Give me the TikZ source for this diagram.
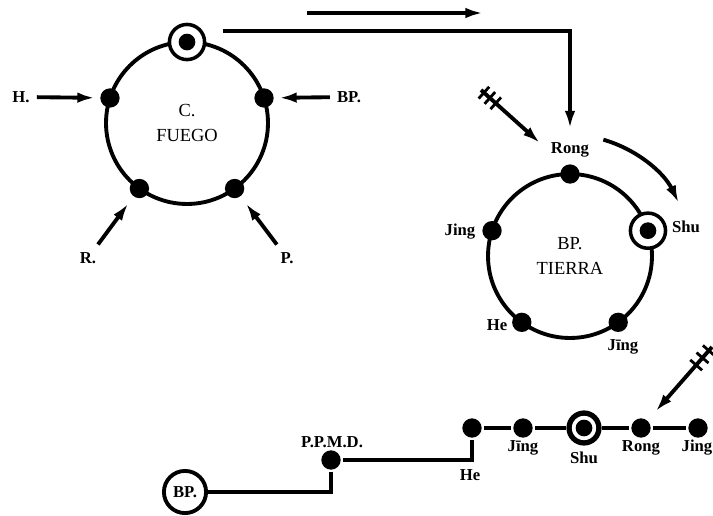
\documentclass[tikz,border=0pt]{standalone}
\usepackage{fontspec}
\setmainfont{Liberation Serif}
\usetikzlibrary{arrows.meta}

\tikzset{
  ball/.style={circle, fill=black, inner sep=0pt, minimum size=11pt},
  core/.style={circle, fill=black, inner sep=0pt, minimum size=9.5pt},
  ring/.style={circle, draw, fill=white, line width=2pt, inner sep=0pt, minimum size=20pt},
  lab/.style={font=\fontsize{9.5}{10}\selectfont\bfseries, inner sep=1pt},
  phase/.style={circle, draw, line width=2.2pt, outer sep=0pt, align=center,
    font=\fontsize{10.5}{14.5}\selectfont},
  arrow/.style={line width=2.2pt, -{Latex[length=10pt,width=6pt]}},
  feather/.style={sloped, draw, line width=1.6pt, inner sep=0pt,
    minimum width=0pt, minimum height=9pt},
}

\begin{document}
\begin{tikzpicture}[x=0.02cm, y=0.02cm, line width=2.2pt]
    \useasboundingbox (0,0) rectangle (713,515);

    % Fire phase circle
    \node[phase, minimum size=3.24cm] (fuego) at (187,392) {C.\\FUEGO};
    \foreach \a/\n in {162/h, 234/r, 306/p, 18/bp} {
        \node[ball] (fuego-\n) at (fuego.\a) {};
    }
    \node[ring] (fuego-ring) at (fuego.90) {};
    \node[core] (fuego-core) at (fuego-ring) {};

    % Inputs to the fire circle
    \node[lab] (h) at (21,418) {H.};
    \node[lab] (bp) at (349,418) {BP.};
    \node[lab] (r) at (88,257) {R.};
    \node[lab] (p) at (287,257) {P.};
    \draw[arrow, shorten <=2pt, shorten >=2pt] (h) -- (fuego-h);
    \draw[arrow, shorten <=2pt, shorten >=2pt] (bp) -- (fuego-bp);
    \draw[arrow, shorten <=3pt, shorten >=4pt] (r) -- (fuego-r);
    \draw[arrow, shorten <=3pt, shorten >=4pt] (p) -- (fuego-p);

    % Earth phase circle
    \node[phase, minimum size=3.28cm] (tierra) at (570,259) {BP.\\TIERRA};
    \foreach \a/\n in {90/rong, 162/jing, 234/he, 306/jingm} {
        \node[ball] (tierra-\n) at (tierra.\a) {};
    }
    \node[ring] (tierra-shu) at (tierra.18) {};
    \node[core] (tierra-core) at (tierra-shu) {};
    \node[lab] (t-rong) at (570,365) {Rong};
    \node[lab] (t-jing) at (460,283) {Jing};
    \node[lab] (t-shu) at (686,288) {Shu};
    \node[lab] (t-he) at (497,190) {He};
    \node[lab] (t-jingm) at (623,168) {Jīng};

    % Link from fire to earth
    \coordinate (lead) at (223,484);
    \draw[arrow, shorten >=6pt] (lead) -| (t-rong);
    \coordinate (flow-a) at (307,502);
    \coordinate (flow-b) at (483,502);
    \draw[arrow] (flow-a) -- (flow-b);

    % Flow round the earth circle
    \draw[arrow] ([shift={(74:121)}]tierra.center)
        arc[start angle=74, end angle=26, radius=121];

    % Feathered arrow into Rong
    \coordinate (quill-a) at (481,425);
    \coordinate (tip-a) at (540,372);
    \draw[arrow] (quill-a) -- (tip-a)
        node[feather, pos=0.05] (qa1) {}
        node[feather, pos=0.15] (qa2) {}
        node[feather, pos=0.25] (qa3) {};

    % Channel line
    \node[lab, circle, draw, minimum size=24pt, inner sep=0pt] (b-bp) at (185,23) {BP.};
    \node[ball] (b-ppmd) at (331,55) {};
    \node[ball] (b-he) at (472,87) {};
    \node[ball] (b-jingm) at (523,87) {};
    \node[ring, line width=3pt, minimum size=17pt] (b-shu) at (584,87) {};
    \node[core] (b-core) at (b-shu) {};
    \node[ball] (b-rong) at (641,87) {};
    \node[ball] (b-jing) at (698,87) {};
    \draw (b-bp) -| (b-ppmd) -| (b-he) -- (b-jingm) -- (b-shu) -- (b-rong) -- (b-jing);

    \node[lab] (l-ppmd) at (332,73) {P.P.M.D.};
    \node[lab] (l-he) at (470,40) {He};
    \node[lab] (l-jingm) at (523,67) {Jīng};
    \node[lab] (l-shu) at (584,57) {Shu};
    \node[lab] (l-rong) at (641,67) {Rong};
    \node[lab] (l-jing) at (697,67) {Jing};

    % Feathered arrow into the channel
    \coordinate (quill-b) at (712,168);
    \draw[arrow, shorten >=6pt] (quill-b) -- (b-rong)
        node[feather, pos=0.05] (qb1) {}
        node[feather, pos=0.15] (qb2) {}
        node[feather, pos=0.25] (qb3) {};
\end{tikzpicture}
\end{document}
